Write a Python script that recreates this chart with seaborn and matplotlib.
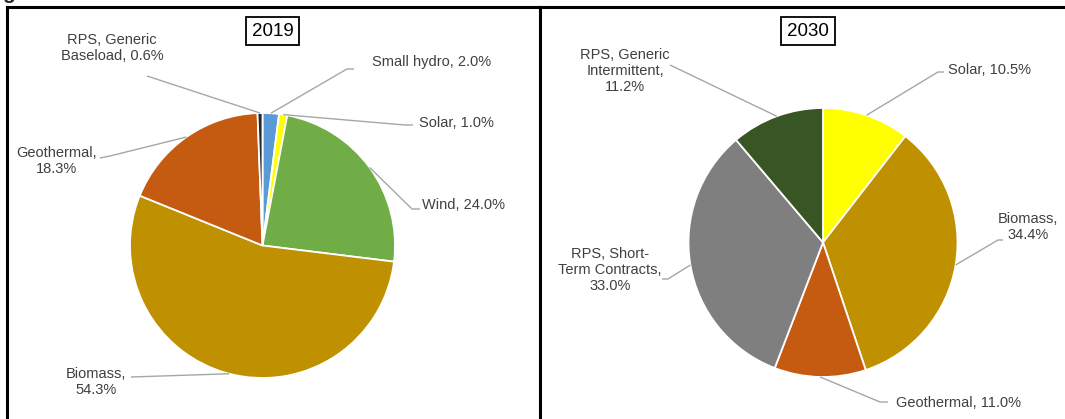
import numpy as np
import pandas as pd
import matplotlib.pyplot as plt
import seaborn as sns

sns.set_theme(style="white")
plt.rcParams['font.family'] = ['Liberation Sans', 'DejaVu Sans']

# data
names_2019 = ["Small hydro", "Solar", "Wind", "Biomass", "Geothermal", "RPS, Generic\nBaseload"]
shares_2019 = [2.0, 1.0, 24.0, 54.3, 18.3, 0.6]
seps_2019 = [", ", ", ", ", ", ",\n", ",\n", ", "]
colors_2019 = ["#5B9BD5", "#FFFF00", "#70AD47", "#BF9000", "#C55A11", "#262626"]

names_2030 = ["Solar", "Biomass", "Geothermal", "RPS, Short-\nTerm Contracts", "RPS, Generic\nIntermittent"]
shares_2030 = [10.5, 34.4, 11.0, 33.0, 11.2]
seps_2030 = [", ", ",\n", ", ", ",\n", ",\n"]
colors_2030 = ["#FFFF00", "#BF9000", "#C55A11", "#7F7F7F", "#375623"]

W, H = 1065, 419

# layout in pixels (top-left origin): panel box, pie centre/radius, label centres, leader bends
panels = [
    dict(year="2019", names=names_2019, shares=shares_2019, seps=seps_2019, colors=colors_2019,
         box=(7, 540), c=(262.5, 245.5), r=132.5, title=(273, 31), hide=("bottom",),
         labels=[(432, 62), (456, 123), (464, 205), (96, 382), (57, 161), (112, 48)],
         leaders=[[(347, 69), (354, 69)], [(405, 125), (413, 125)], [(412, 209), (420, 209)],
                  [(131, 377)], [(110, 156), (100, 158)], [(147, 76)]]),
    dict(year="2030", names=names_2030, shares=shares_2030, seps=seps_2030, colors=colors_2030,
         box=(540, 1065), c=(823, 242.5), r=134.5, title=(808, 31), hide=("bottom", "right"),
         labels=[(990, 70), (1028, 227), (958, 403), (610, 270), (625, 71)],
         leaders=[[(938, 72), (944, 72)], [(998, 240), (1003, 240)], [(880, 402), (888, 402)],
                  [(668, 279), (662, 279)], [(670, 65)]]),
]

fig = plt.figure(figsize=(W / 100, H / 100), dpi=100)

for p in panels:
    x0, x1 = p["box"]
    ax = fig.add_axes([x0 / W, 0, (x1 - x0) / W, (H - 7) / H])
    cx, cy = p["c"]
    r = p["r"]

    def to_data(pt):
        return ((pt[0] - cx) / r, (cy - pt[1]) / r)

    wedges, _ = ax.pie(p["shares"], colors=p["colors"], startangle=90, counterclock=False,
                       wedgeprops=dict(edgecolor="white", linewidth=1.3))
    ax.set_aspect("auto")
    ax.set_xlim((x0 - cx) / r, (x1 - cx) / r)
    ax.set_ylim((cy - H) / r, (cy - 7) / r)
    ax.set_frame_on(True)
    for side, sp in ax.spines.items():
        sp.set_color("black")
        sp.set_linewidth(2.2)
        sp.set_visible(side not in p["hide"])

    for w, name, sep, val, lab, bend in zip(wedges, p["names"], p["seps"], p["shares"],
                                            p["labels"], p["leaders"]):
        mid = np.deg2rad((w.theta1 + w.theta2) / 2)
        pts = [(np.cos(mid), np.sin(mid))] + [to_data(b) for b in bend]
        xs, ys = zip(*pts)
        ax.plot(xs, ys, color="#A6A6A6", lw=1.0, solid_capstyle="butt")
        tx, ty = to_data(lab)
        ax.text(tx, ty, f"{name}{sep}{val:.1f}%", ha="center", va="center",
                multialignment="center", fontsize=10.5, color="#404040", linespacing=1.15)

    tx, ty = to_data(p["title"])
    ax.text(tx, ty, p["year"], ha="center", va="center", fontsize=13.5, color="black",
            bbox=dict(boxstyle="square,pad=0.3", fc="white", ec="black", lw=1.3))

# clipped panel letter at the top-left corner
fig.text(2 / W, 1 + 1.5 / H, "g", fontsize=15, fontweight="bold", va="baseline", ha="left")

fig.savefig("out.png", dpi=100)
